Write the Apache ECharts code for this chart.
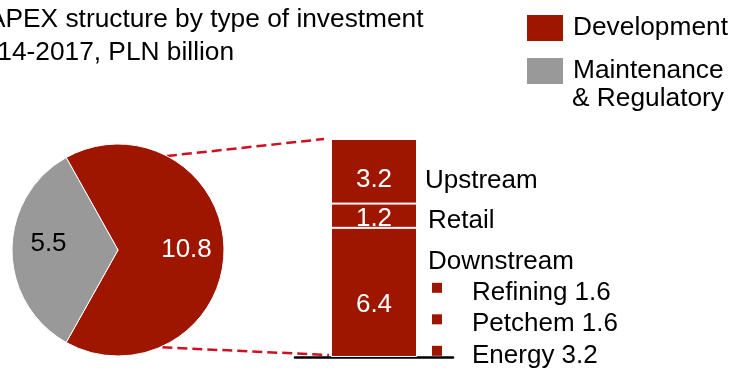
<!DOCTYPE html>
<html>
<head>
<meta charset="utf-8">
<script src="https://cdn.jsdelivr.net/npm/echarts@6/dist/echarts.min.js"></script>
<style>
  html, body { margin: 0; padding: 0; background: #fff; }
  #chart { width: 735px; height: 368px; }
</style>
</head>
<body>
<div id="chart"></div>
<script>
// ---- data ----
const titleLines = ['CAPEX structure by type of investment', '2014-2017, PLN billion'];
const pieNames = ['Development', 'Maintenance & Regulatory'];
const pieValues = [10.8, 5.5];
const barCategory = 'Development';
const segNames = ['Downstream', 'Retail', 'Upstream'];   // stacked bottom to top
const segValues = [6.4, 1.2, 3.2];
const downNames = ['Refining', 'Petchem', 'Energy'];
const downValues = [1.6, 1.6, 3.2];

// ---- style ----
const FONT = '"Liberation Sans", Arial, Helvetica, sans-serif';
const RED = '#9e1600';
const GRAY = '#999999';
const DASH = '#cc1222';
const FS = 26;
const FS_HEAD = 26.3;

const chart = echarts.init(document.getElementById('chart'), null, { renderer: 'canvas' });

const pieTotal = pieValues.reduce((a, b) => a + b, 0);
const barTotal = segValues.reduce((a, b) => a + b, 0);
// Development slice centred on the right-hand side of the pie
const startAngle = pieValues[0] / pieTotal * 180;
const pieColors = [RED, GRAY];
const pieLabelColors = ['#fff', '#000'];
const pieLabelOffsets = [[-3, 0], [2, -6]];
const PIE_CENTER = [118, 250];
const PIE_R = 106;

const pieData = pieNames.map((n, i) => ({
  name: n, value: pieValues[i], itemStyle: { color: pieColors[i] }
}));
// wider transparent ring used only to place the value labels further out
const pieLabelData = pieNames.map((n, i) => ({
  name: n, value: pieValues[i],
  itemStyle: { color: 'rgba(0,0,0,0)', borderWidth: 0 },
  label: { color: pieLabelColors[i], offset: pieLabelOffsets[i] }
}));

const labelOffsets = [[0, 12], [0, 3], [0, 9]];
const barSeries = segNames.map((n, i) => ({
  type: 'bar', name: n, stack: 'capex', barWidth: 86,
  data: [segValues[i]],
  itemStyle: { color: RED, borderColor: '#fff', borderWidth: 1 },
  label: {
    show: true, position: 'inside', color: '#fff',
    fontFamily: FONT, fontSize: FS, offset: labelOffsets[i],
    formatter: p => p.value.toFixed(1)
  },
  silent: true, z: 2
}));

chart.setOption({
  animation: false,
  legend: {
    orient: 'vertical', left: 525, top: 12, padding: 0,
    itemWidth: 38, itemHeight: 28, itemGap: 11, icon: 'rect',
    selectedMode: false, data: pieNames,
    formatter: n => n.split(' & ')[0],
    textStyle: { fontFamily: FONT, fontSize: FS_HEAD, lineHeight: 28, color: '#000', padding: [4, 0, 0, 4] }
  },
  grid: { left: 295, width: 158, top: 139, bottom: 11 },
  xAxis: {
    type: 'category', data: [barCategory],
    axisLine: { lineStyle: { color: '#000', width: 2.5 } },
    axisTick: { show: false }, axisLabel: { show: false }, splitLine: { show: false }
  },
  yAxis: { type: 'value', min: 0, max: barTotal, show: false },
  series: [
    {
      type: 'pie', center: PIE_CENTER, radius: [0, PIE_R], startAngle,
      data: pieData, label: { show: false }, labelLine: { show: false },
      itemStyle: { borderColor: '#fff', borderWidth: 1 }, silent: true
    },
    {
      type: 'pie', center: PIE_CENTER, radius: [0, 137], startAngle,
      data: pieLabelData, avoidLabelOverlap: false, silent: true,
      labelLine: { show: false },
      label: { show: true, position: 'inside', fontFamily: FONT, fontSize: FS, formatter: p => p.value.toFixed(1) },
      emphasis: { disabled: true }, z: 3
    },
    ...barSeries
  ]
});

// ---- annotations placed from the bar's own scale ----
const yPx = v => chart.convertToPixel({ yAxisIndex: 0 }, v);
const cx = chart.convertToPixel({ xAxisIndex: 0 }, barCategory);
const barLeft = cx - 43, barRight = cx + 43;
const cum = [0];
segValues.forEach((v, i) => cum.push(cum[i] + v));
const segTop = i => yPx(cum[i + 1]);
const segMid = i => yPx(cum[i] + segValues[i] / 2);

const txt = (text, x, y, size) => ({
  type: 'text', x, y, silent: true,
  style: { text, fontFamily: FONT, fontSize: size || FS, fill: '#000', align: 'left', verticalAlign: 'middle' }
});

const graphics = [];
// heading, two lines (runs off the left edge of the page)
const titleX = [-31, -32];
titleLines.forEach((t, i) => graphics.push(txt(t, titleX[i], 20 + i * 32.5, FS_HEAD)));
// second line of the legend entry
graphics.push(txt(pieNames[1].split(' & ').slice(1).map(s => '& ' + s).join(''), 572, 99, FS_HEAD));
// segment names beside the bar
graphics.push(txt(segNames[2], barRight + 8, segMid(2) + 10));
graphics.push(txt(segNames[1], barRight + 11, segMid(1) + 5));
const dTop = segTop(0);
graphics.push(txt(segNames[0], barRight + 11, dTop + 34));
downNames.forEach((n, i) => {
  const rowY = dTop + 63 + i * 31.5;
  graphics.push({
    type: 'rect', z: -1, silent: true,
    shape: { x: barRight + 15, y: rowY - 8, width: 10, height: 10 },
    style: { fill: RED }
  });
  graphics.push(txt(n + ' ' + downValues[i].toFixed(1), barRight + 55, rowY + 2));
});
// dashed connectors from the Development slice to the bar
const ang = 62.5 * Math.PI / 180;
const topPt = [PIE_CENTER[0] + PIE_R * Math.cos(ang), PIE_CENTER[1] - PIE_R * Math.sin(ang)];
const botPt = [PIE_CENTER[0] + (PIE_R + 1) * Math.cos(ang + 3 * Math.PI / 180), PIE_CENTER[1] + (PIE_R + 1) * Math.sin(ang + 3 * Math.PI / 180)];
const lineStyle = { stroke: DASH, lineWidth: 2.5, lineDash: [10, 5] };
graphics.push({ type: 'line', silent: true, shape: { x1: topPt[0], y1: topPt[1], x2: barLeft - 7, y2: segTop(2) }, style: lineStyle });
graphics.push({ type: 'line', silent: true, shape: { x1: botPt[0], y1: botPt[1], x2: barLeft - 2, y2: yPx(0) - 2 }, style: lineStyle });

chart.setOption({ graphic: graphics });
</script>
</body>
</html>
